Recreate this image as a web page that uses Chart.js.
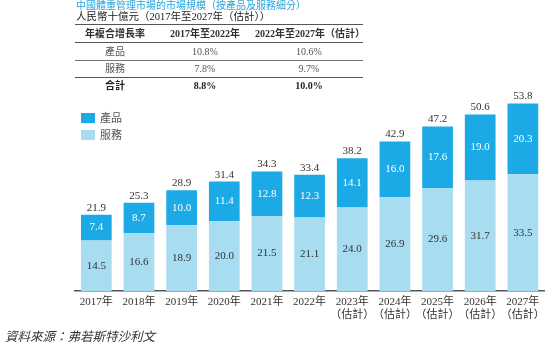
<!DOCTYPE html>
<html>
<head>
<meta charset="utf-8">
<script src="https://cdn.jsdelivr.net/npm/chart.js@4/dist/chart.umd.min.js"></script>
<style>
  html, body { margin:0; padding:0; background:#fff; }
  body { width:550px; height:361px; position:relative; overflow:hidden;
         font-family:"Liberation Serif","Noto Sans CJK TC",serif; color:#333; }
  #wrap { position:absolute; left:0; top:0; width:550px; height:361px; }
  .abs { position:absolute; white-space:nowrap; }
  #title { left:76px; top:0px; font-size:10px; color:#2aa4dc; line-height:12px; }
  #sub { left:76px; top:11px; font-size:10.5px; color:#222; line-height:12px; }
  table { position:absolute; left:75px; top:24px; width:288px; table-layout:fixed; border-collapse:collapse; font-size:10px; }
  td { text-align:center; height:16px; padding:0; line-height:16px; white-space:nowrap; }
  tr.hdr td { font-weight:bold; border-top:1.5px solid #555; border-bottom:1.5px solid #555; height:17px; }
  tr.r1 td { border-bottom:1.2px solid #777; color:#555; height:17px; }
  tr.r2 td { border-bottom:1.5px solid #555; color:#555; }
  tr.tot td { font-weight:bold; color:#222; }
  .leg { position:absolute; font-size:11px; color:#555; line-height:10px; }
  .leg span { display:inline-block; width:14px; height:10px; vertical-align:top; margin-right:5px; }
  #src { left:5px; top:326px; font-size:12.5px; font-style:italic; color:#333; }
</style>
</head>
<body>
<div id="wrap"><canvas id="c" width="550" height="361"></canvas></div>
<div class="abs" id="title">中國體重管理市場的市場規模（按產品及服務細分）</div>
<div class="abs" id="sub">人民幣十億元（2017年至2027年（估計））</div>
<table>
  <colgroup><col style="width:80px"><col style="width:100px"><col style="width:108px"></colgroup>
  <tr class="hdr"><td>年複合增長率</td><td>2017年至2022年</td><td>2022年至2027年（估計）</td></tr>
  <tr class="r1"><td>產品</td><td>10.8%</td><td>10.6%</td></tr>
  <tr class="r2"><td>服務</td><td>7.8%</td><td>9.7%</td></tr>
  <tr class="tot"><td>合計</td><td>8.8%</td><td>10.0%</td></tr>
</table>
<div class="leg" style="left:81px;top:113px;"><span style="background:#1caae6"></span>產品</div>
<div class="leg" style="left:81px;top:130px;"><span style="background:#a7dcf1"></span>服務</div>
<div class="abs" id="src">資料來源：弗若斯特沙利文</div>
<script>
const years = ['2017年','2018年','2019年','2020年','2021年','2022年','2023年','2024年','2025年','2026年','2027年'];
const estimated = [false,false,false,false,false,false,true,true,true,true,true];
const services = [14.5,16.6,18.9,20.0,21.5,21.1,24.0,26.9,29.6,31.7,33.5];
const products = [7.4,8.7,10.0,11.4,12.8,12.3,14.1,16.0,17.6,19.0,20.3];
const totals = [21.9,25.3,28.9,31.4,34.3,33.4,38.2,42.9,47.2,50.6,53.8];

const labels = years.map((y,i) => estimated[i] ? [y,'（估計）'] : y);

const labelPlugin = {
  id:'vals',
  afterDatasetsDraw(chart){
    const ctx = chart.ctx;
    ctx.save();
    ctx.font = '11px "Liberation Serif", serif';
    ctx.textAlign = 'center';
    ctx.textBaseline = 'middle';
    const m0 = chart.getDatasetMeta(0), m1 = chart.getDatasetMeta(1);
    m0.data.forEach((el,i)=>{
      ctx.fillStyle = '#333';
      ctx.fillText(services[i].toFixed(1), el.x, (el.y+el.base)/2);
    });
    m1.data.forEach((el,i)=>{
      ctx.fillStyle = '#ffffff';
      ctx.fillText(products[i].toFixed(1), el.x, (el.y+el.base)/2);
      ctx.fillStyle = '#333';
      ctx.fillText(totals[i].toFixed(1), el.x, el.y - 7);
    });
    ctx.restore();
  }
};

new Chart(document.getElementById('c'), {
  type:'bar',
  data:{
    labels: labels,
    datasets:[
      {label:'服務', data:services, backgroundColor:'#a7dcf1', borderWidth:0},
      {label:'產品', data:products, backgroundColor:'#1caae6', borderWidth:0}
    ]
  },
  options:{
    responsive:false,
    animation:false,
    devicePixelRatio:1,
    layout:{padding:{left:75, right:3, top:82, bottom:0}},
    plugins:{legend:{display:false}, tooltip:{enabled:false}},
    scales:{
      x:{
        stacked:true,
        categoryPercentage:1.0,
        barPercentage:0.72,
        grid:{display:false, drawTicks:false},
        border:{display:true, color:'#555', width:1.5},
        ticks:{color:'#333', padding:5, maxRotation:0, autoSkip:false,
               font:{family:'"Liberation Serif","Noto Sans CJK TC", serif', size:11, lineHeight:1.15}},
        afterFit(s){ s.height = 70; }
      },
      y:{
        stacked:true, display:false, min:0, max:60
      }
    }
  },
  plugins:[labelPlugin]
});
</script>
</body>
</html>
